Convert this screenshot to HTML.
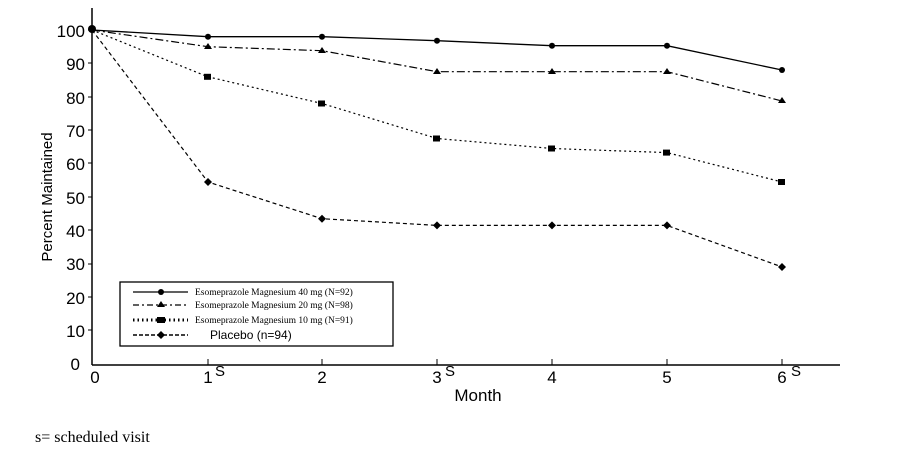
<!DOCTYPE html><html><head><style>body{margin:0;background:#fff}svg{display:block}</style></head><body>
<svg width="917" height="450" xmlns="http://www.w3.org/2000/svg" font-family="Liberation Sans, sans-serif">
<line x1="92" y1="8" x2="92" y2="365" stroke="#000" stroke-width="1.5"/>
<line x1="92" y1="365" x2="840" y2="365" stroke="#000" stroke-width="1.5"/>
<g font-size="17" text-anchor="end">
<text x="85" y="37">100</text><text x="85" y="70">90</text><text x="85" y="104">80</text><text x="85" y="137">70</text><text x="85" y="170">60</text><text x="85" y="204">50</text><text x="85" y="237">40</text><text x="85" y="270">30</text><text x="85" y="304">20</text><text x="85" y="337">10</text><text x="80" y="370">0</text>
</g>
<g stroke="#000"><line x1="88" y1="30" x2="92" y2="30"/><line x1="88" y1="63" x2="92" y2="63"/><line x1="88" y1="97" x2="92" y2="97"/><line x1="88" y1="130" x2="92" y2="130"/><line x1="88" y1="163" x2="92" y2="163"/><line x1="88" y1="197" x2="92" y2="197"/><line x1="88" y1="230" x2="92" y2="230"/><line x1="88" y1="264" x2="92" y2="264"/><line x1="88" y1="297" x2="92" y2="297"/><line x1="88" y1="330" x2="92" y2="330"/>
<line x1="208" y1="359" x2="208" y2="365"/><line x1="322" y1="359" x2="322" y2="365"/><line x1="437" y1="359" x2="437" y2="365"/><line x1="552" y1="359" x2="552" y2="365"/><line x1="667" y1="359" x2="667" y2="365"/><line x1="782" y1="359" x2="782" y2="365"/></g>
<g font-size="17" text-anchor="middle">
<text x="95" y="383">0</text><text x="208" y="383">1</text><text x="322" y="383">2</text><text x="437" y="383">3</text><text x="552" y="383">4</text><text x="667" y="383">5</text><text x="782" y="383">6</text>
<text x="220" y="376" font-size="15">S</text><text x="450" y="376" font-size="15">S</text><text x="796" y="376" font-size="15">S</text>
<text x="478" y="401">Month</text>
</g>
<text transform="translate(52,197) rotate(-90)" font-size="15" text-anchor="middle">Percent Maintained</text>
<text x="35" y="442" font-family="Liberation Serif, serif" font-size="16">s= scheduled visit</text>
<g fill="none" stroke="#000">
<polyline stroke-width="1.3" points="92,30 208,36.7 322,36.7 437,40.7 552,45.7 667,45.7 782,70"/>
<polyline stroke-width="1.2" stroke-dasharray="8,3,2,3" points="92,30 208,46.7 322,50.7 437,71.7 552,71.7 667,71.7 782,101"/>
<polyline stroke-width="1.2" stroke-dasharray="2,3" points="92,30 208,76.8 322,103.5 437,138.5 552,148.5 667,152.6 782,182"/>
<polyline stroke-width="1.2" stroke-dasharray="4,3" points="92,30 208,182 322,218.7 437,225.4 552,225.4 667,225.4 782,267"/>
</g>
<g fill="#000">
<circle cx="92" cy="29" r="4"/>
<circle cx="208" cy="36.7" r="3"/><circle cx="322" cy="36.7" r="3"/><circle cx="437" cy="40.7" r="3"/><circle cx="552" cy="45.7" r="3"/><circle cx="667" cy="45.7" r="3"/><circle cx="782" cy="70" r="3"/>
<path d="M208,43l4,6h-8zM322,47l4,6h-8zM437,68l4,6h-8zM552,68l4,6h-8zM667,68l4,6h-8zM782,97l4,6h-8z"/>
<rect x="204" y="73.8" width="7" height="6"/><rect x="318" y="100.5" width="7" height="6"/><rect x="433" y="135.5" width="7" height="6"/><rect x="548" y="145.5" width="7" height="6"/><rect x="663" y="149.6" width="7" height="6"/><rect x="778" y="179" width="7" height="6"/>
<path d="M208,178l4,4-4,4-4-4zM322,214.7l4,4-4,4-4-4zM437,221.4l4,4-4,4-4-4zM552,221.4l4,4-4,4-4-4zM667,221.4l4,4-4,4-4-4zM782,263l4,4-4,4-4-4z"/>
</g>
<rect x="120" y="282" width="273" height="64" fill="#fff" stroke="#000" stroke-width="1.3"/>
<g stroke="#000" fill="none">
<line x1="133" y1="292" x2="188" y2="292" stroke-width="1.3"/>
<line x1="133" y1="305" x2="188" y2="305" stroke-dasharray="6,3,2,3" stroke-width="1.3"/>
<line x1="133" y1="320" x2="188" y2="320" stroke-dasharray="1.5,3" stroke-width="3"/>
<line x1="133" y1="335" x2="188" y2="335" stroke-dasharray="4,2" stroke-width="1.5"/>
</g>
<g fill="#000"><circle cx="161" cy="292" r="3"/><path d="M161,301l4,6h-8z"/><rect x="157" y="317" width="8" height="6"/><path d="M161,331l4,4-4,4-4-4z"/></g>
<g font-family="Liberation Serif, serif" font-size="9.5">
<text x="195" y="295">Esomeprazole Magnesium 40 mg (N=92)</text>
<text x="195" y="308">Esomeprazole Magnesium 20 mg (N=98)</text>
<text x="195" y="323">Esomeprazole Magnesium 10 mg (N=91)</text>
</g>
<text x="210" y="339" font-size="12">Placebo (n=94)</text>
</svg></body></html>
